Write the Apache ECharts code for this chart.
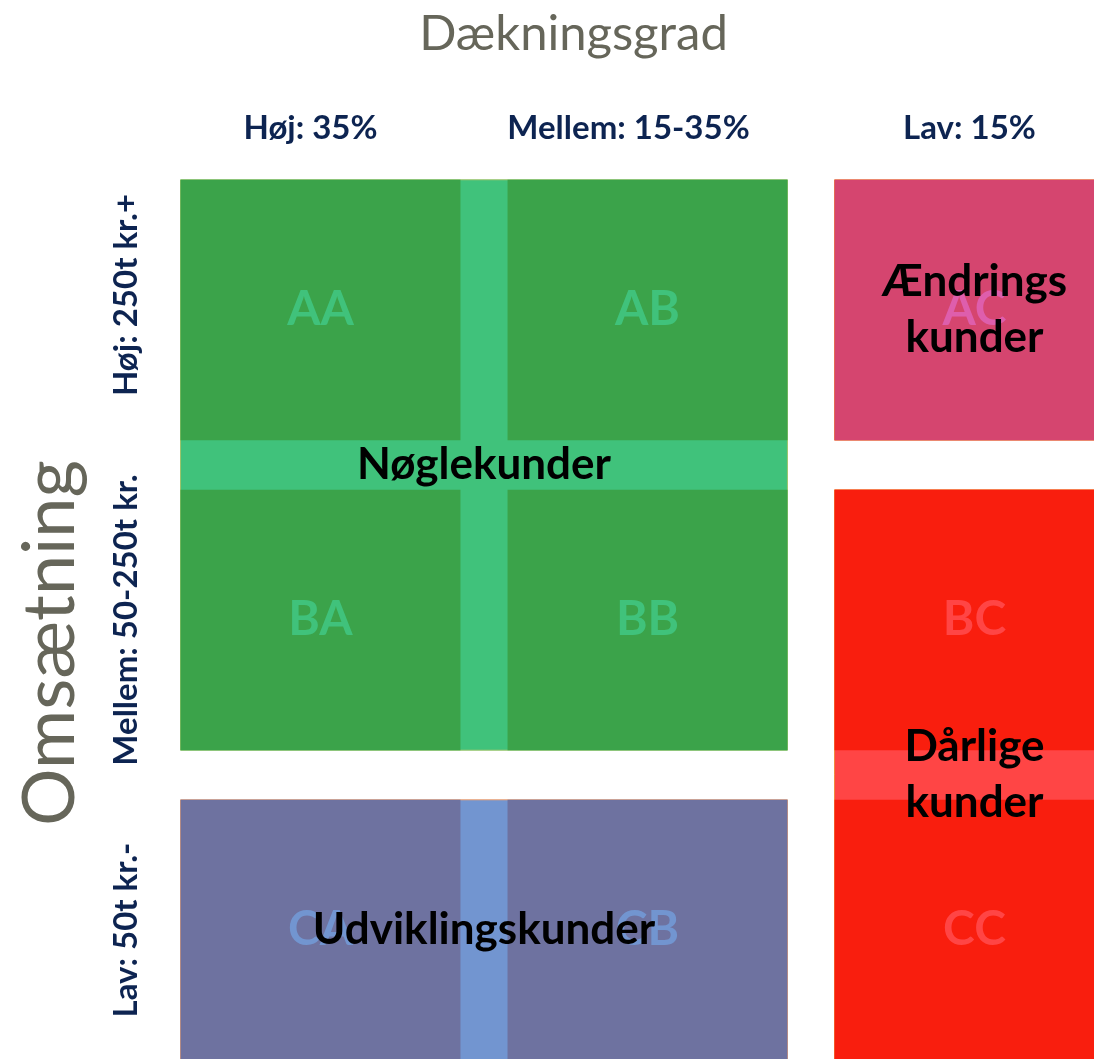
<!DOCTYPE html>
<html>
<head>
<meta charset="utf-8">
<script src="https://cdn.jsdelivr.net/npm/echarts@6/dist/echarts.min.js"></script>
<style>
html,body{margin:0;padding:0;background:#fff;}
#chart{width:1094px;height:1059px;}
</style>
</head>
<body>
<div id="chart"></div>
<script>
// ---- data ----
const xTitle = 'Dækningsgrad';
const yTitle = 'Omsætning';
const columns = ['Høj: 35%', 'Mellem: 15-35%', 'Lav: 15%'];
const rows = ['Høj: 250t kr.+', 'Mellem: 50-250t kr.', 'Lav: 50t kr.-'];
const cellCodes = [
  ['AA', 'AB', 'AC'],
  ['BA', 'BB', 'BC'],
  ['CA', 'CB', 'CC']
];
const segments = ['Nøglekunder', 'Ændrings\nkunder', 'Dårlige\nkunder', 'Udviklingskunder'];
const segmentCols = [[0, 1], [2, 2], [2, 2], [0, 1]];
const segmentRows = [[0, 1], [0, 0], [1, 2], [2, 2]];

// ---- styles ----
const segDark  = ['#3BA34A', '#D5456F', '#F91E0E', '#6E72A0'];
const segLight = ['#40C27B', '#DE5EAC', '#FF4545', '#7295D0'];
const segEdge  = ['#9CC46A', '#F08A3C', '#F08A3C', '#F0A070'];
const FONT = 'Lato, "Open Sans", sans-serif';
const INSET_X = 0.072, INSET_Y = 0.08;
const LBL = { fontFamily: FONT, fontSize: 33, fontWeight: 'bold', color: '#0D2451' };

function segOf(r, c) {
  for (let s = 0; s < segments.length; s++) {
    if (c >= segmentCols[s][0] && c <= segmentCols[s][1] &&
        r >= segmentRows[s][0] && r <= segmentRows[s][1]) return s;
  }
  return 0;
}

const segData = segments.map((n, s) => [segmentCols[s][0], segmentCols[s][1], segmentRows[s][0], segmentRows[s][1], s]);
const cellData = [];
rows.forEach((r, ri) => columns.forEach((c, ci) => cellData.push([ci, ri, segOf(ri, ci)])));

function bandRect(api, c0, c1, r0, r1) {
  const sz = api.size([1, 1]);
  const a = api.coord([c0, r0]);
  const b = api.coord([c1, r1]);
  const x0 = a[0] - sz[0] / 2 + sz[0] * INSET_X;
  const x1 = b[0] + sz[0] / 2 - sz[0] * INSET_X;
  const y0 = a[1] - sz[1] / 2 + sz[1] * INSET_Y;
  const y1 = b[1] + sz[1] / 2 - sz[1] * INSET_Y;
  return { x: x0, y: y0, width: x1 - x0, height: y1 - y0 };
}

const chart = echarts.init(document.getElementById('chart'), null, { renderer: 'canvas' });
chart.setOption({
  backgroundColor: '#ffffff',
  animation: false,
  grid: { left: 157, top: 155, width: 981, height: 930, containLabel: false, outerBoundsMode: 'none' },
  xAxis: {
    type: 'category', position: 'top', data: columns,
    name: xTitle, nameLocation: 'middle', nameGap: 96,
    nameTextStyle: { fontFamily: FONT, fontSize: 49, color: '#66665A', padding: [0, 148, 0, 0] },
    axisLine: { show: false }, axisTick: { show: false }, splitLine: { show: false },
    axisLabel: {
      interval: 0, hideOverlap: false,
      margin: 10, fontFamily: FONT, fontSize: 33, fontWeight: 'bold', color: '#0D2451',
      formatter: (v, i) => '{l' + i + '|' + v + '}',
      rich: {
        l0: Object.assign({ padding: [0, 20, 0, 0] }, LBL),
        l1: Object.assign({ padding: [0, 38, 0, 0] }, LBL),
        l2: Object.assign({ padding: [0, 10, 0, 0] }, LBL)
      }
    }
  },
  yAxis: {
    type: 'category', inverse: true, data: rows,
    name: yTitle, nameLocation: 'middle', nameRotate: 90, nameGap: 70,
    nameTextStyle: { fontFamily: FONT, fontSize: 72, color: '#66665A', padding: [0, 46, 0, 0] },
    axisLine: { show: false }, axisTick: { show: false }, splitLine: { show: false },
    axisLabel: {
      interval: 0, hideOverlap: false,
      rotate: 90, margin: 14, fontFamily: FONT, fontSize: 33, fontWeight: 'bold', color: '#0D2451', align: 'center', verticalAlign: 'bottom',
      formatter: (v, i) => '{r' + i + '|' + v + '}',
      rich: {
        r0: Object.assign({ padding: [0, 0, 0, 30] }, LBL),
        r1: Object.assign({ padding: [0, 0, 0, 0] }, LBL),
        r2: Object.assign({ padding: [0, 0, 0, 0] }, LBL)
      }
    }
  },
  series: [
    {
      type: 'custom', silent: true, z: 1,
      data: segData,
      renderItem: (params, api) => {
        const s = api.value(4);
        const r = bandRect(api, api.value(0), api.value(1), api.value(2), api.value(3));
        return { type: 'rect', shape: r, style: { fill: segLight[s], stroke: segEdge[s], lineWidth: 1 } };
      }
    },
    {
      type: 'custom', silent: true, z: 2,
      data: cellData,
      renderItem: (params, api) => {
        const c = api.value(0), rr = api.value(1), s = api.value(2);
        const r = bandRect(api, c, c, rr, rr);
        const code = cellCodes[rr][c];
        return {
          type: 'group',
          children: [
            { type: 'rect', shape: r, style: { fill: segDark[s] } },
            { type: 'text', style: { text: code, x: r.x + r.width / 2, y: r.y + r.height / 2, align: 'center', verticalAlign: 'middle', fontFamily: FONT, fontSize: 48, fontWeight: 'bold', fill: segLight[s] } }
          ]
        };
      }
    },
    {
      type: 'custom', silent: true, z: 3,
      data: segData,
      renderItem: (params, api) => {
        const s = api.value(4);
        const r = bandRect(api, api.value(0), api.value(1), api.value(2), api.value(3));
        return { type: 'text', style: { text: segments[s], x: r.x + r.width / 2, y: r.y + r.height / 2, align: 'center', verticalAlign: 'middle', fontFamily: FONT, fontSize: 44, lineHeight: 56, fontWeight: 'bold', fill: '#000000' } };
      }
    }
  ]
});
</script>
</body>
</html>
